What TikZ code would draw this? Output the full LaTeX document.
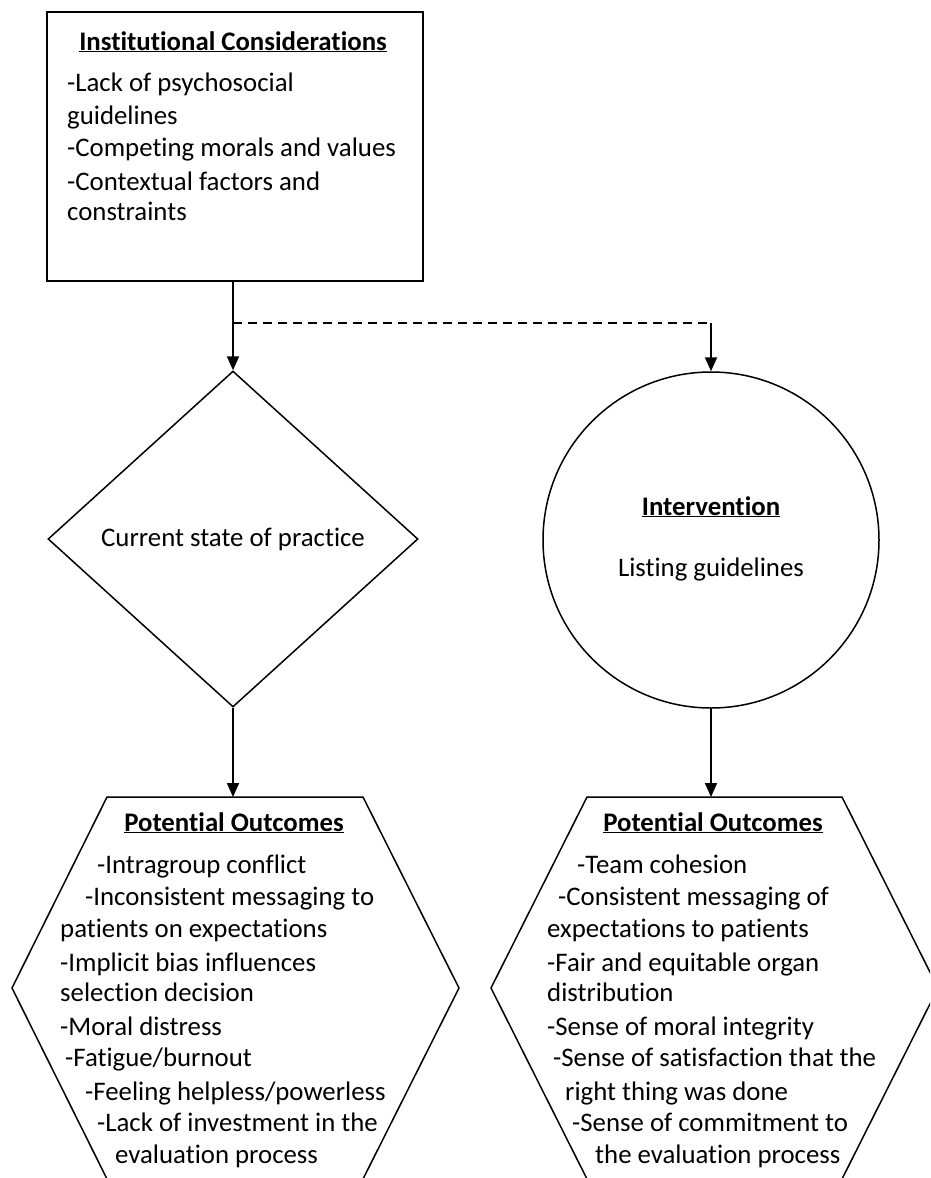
\documentclass[tikz,border=0pt]{standalone}
\usepackage{fontspec}
\setmainfont{Carlito}[Ligatures=NoCommon]
\usetikzlibrary{arrows.meta,shapes.geometric}
\newcommand\bodyfont{\fontsize{26.8}{32.5}\selectfont}
\tikzset{
  shapeline/.style={draw=black, line width=1.5pt},
  conn/.style={draw=black, line width=2pt, -{Triangle[length=14pt,width=12pt]}},
  dashconn/.style={draw=black, line width=2pt, dash pattern=on 9pt off 6pt},
  txt/.style={anchor=base west, inner sep=0pt, font=\bodyfont},
  ctxt/.style={anchor=base, inner sep=0pt, font=\bodyfont},
}
\begin{document}
\begin{tikzpicture}[x=1pt,y=-1pt]
\useasboundingbox (0,0) rectangle (930,1178);
\fill[white] (0,0) rectangle (930,1178);
\clip (0,0) rectangle (930,1178);

% Institutional considerations box
\node[shapeline, rectangle, minimum width=376pt, minimum height=269pt, inner sep=0pt] (box) at (235,146.5) {};
\node[ctxt] (boxhead) at (233,50) {\underline{\textbf{Institutional Considerations}}};
\node[txt] (b1) at (67,91) {-Lack of psychosocial};
\node[txt] (b2) at (67,124) {guidelines};
\node[txt] (b3) at (67,156) {-Competing morals and values};
\node[txt] (b4) at (67,190) {-Contextual factors and};
\node[txt] (b5) at (67,220) {constraints};

% Diamond
\node[shapeline, diamond, minimum width=370pt, minimum height=336pt, inner sep=0pt, font=\bodyfont] (dia) at (233,539) {Current state of practice};

% Circle
\node[shapeline, circle, minimum size=336pt, inner sep=0pt] (circ) at (711,540) {};
\node[ctxt] (circhead) at (711,515) {\underline{\textbf{Intervention}}};
\node[ctxt] (circtxt) at (711,576) {Listing guidelines};

% Split coordinate
\coordinate (split) at (233,323);
\coordinate (hexL) at (233,797);
\coordinate (hexR) at (711,797);

% Connectors
\draw[conn] (box.south -| dia.north) -- (dia.north);
\draw[dashconn] (split) -- (split -| circ.north);
\draw[conn] (split -| circ.north) -- (circ.north);
\draw[conn] (dia.south) -- (hexL);
\draw[conn] (circ.south) -- (hexR);

% Left hexagon
\draw[shapeline] (107,797) -- (363,797) -- (459,988) -- (363,1179) -- (107,1179) -- (12,988) -- cycle;
\node[ctxt] (lhead) at (234,831) {\underline{\textbf{Potential Outcomes}}};
\node[txt] (l1) at (97,873) {-Intragroup conflict};
\node[txt] (l2) at (85,905) {-Inconsistent messaging to};
\node[txt] (l3) at (60,937) {patients on expectations};
\node[txt] (l4) at (60,971) {-Implicit bias influences};
\node[txt] (l5) at (60,1001) {selection decision};
\node[txt] (l6) at (60,1035) {-Moral distress};
\node[txt] (l7) at (65,1066) {-Fatigue/burnout};
\node[txt] (l8) at (85,1100) {-Feeling helpless/powerless};
\node[txt] (l9) at (97,1131) {-Lack of investment in the};
\node[txt] (l10) at (115,1163) {evaluation process};

% Right hexagon
\draw[shapeline] (587,797) -- (842,797) -- (938,988) -- (842,1179) -- (587,1179) -- (491,988) -- cycle;
\node[ctxt] (rhead) at (713,831) {\underline{\textbf{Potential Outcomes}}};
\node[txt] (r1) at (577,873) {-Team cohesion};
\node[txt] (r2) at (558,905) {-Consistent messaging of};
\node[txt] (r3) at (547,937) {expectations to patients};
\node[txt] (r4) at (547,971) {-Fair and equitable organ};
\node[txt] (r5) at (547,1001) {distribution};
\node[txt] (r6) at (547,1035) {-Sense of moral integrity};
\node[txt] (r7) at (553,1066) {-Sense of satisfaction that the};
\node[txt] (r8) at (565,1100) {right thing was done};
\node[txt] (r9) at (572,1131) {-Sense of commitment to};
\node[txt] (r10) at (595,1163) {the evaluation process};
\end{tikzpicture}
\end{document}
